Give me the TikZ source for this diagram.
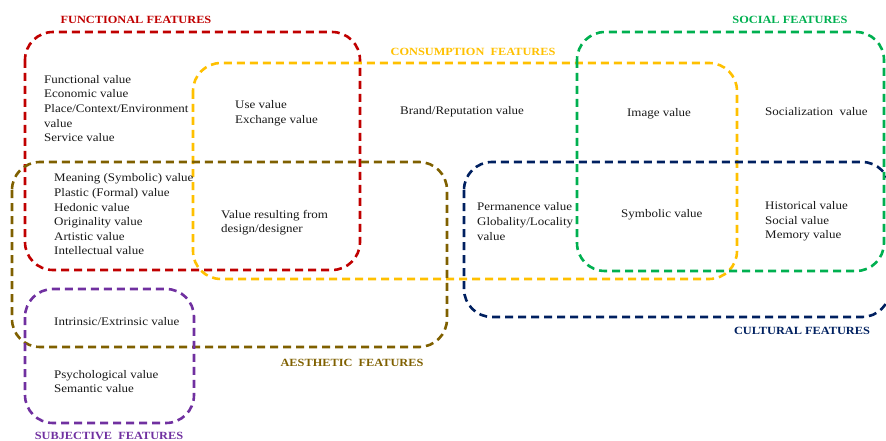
\documentclass[tikz,border=0pt]{standalone}
\usepackage{fontspec}
\setmainfont{Liberation Serif}[FakeStretch=1.12]
\usepackage{xcolor}
\usetikzlibrary{positioning}

\definecolor{funcred}{HTML}{C00000}
\definecolor{consyellow}{HTML}{FFC000}
\definecolor{socgreen}{HTML}{00B050}
\definecolor{aesbrown}{HTML}{7F6000}
\definecolor{cultnavy}{HTML}{002060}
\definecolor{subjpurple}{HTML}{7030A0}

\begin{document}
\begin{tikzpicture}[
  x=1pt, y=-1pt,
  every node/.style={font=\fontsize{11.6}{14.6}\selectfont, text=black!90},
  group/.style={draw=#1, line width=2.6pt, dash pattern=on 8pt off 5pt, rounded corners=28pt},
  values/.style={anchor=west, align=left, inner sep=0pt},
  title/.style={font=\fontsize{11}{14}\selectfont\bfseries, text=#1, inner sep=0pt},
]
\useasboundingbox (0,0) rectangle (886,441);

% --- Feature groups (dashed rounded frames)
\draw[group=funcred]    (25,32)   rectangle (360,270);
\draw[group=consyellow] (193,63)  rectangle (737,279);
\draw[group=socgreen]   (577,32)  rectangle (884,271);
\draw[group=aesbrown]   (12,162)  rectangle (447,347);
\draw[group=cultnavy]   (464,162) rectangle (890,317);
\draw[group=subjpurple] (25,289)  rectangle (194,423);

% --- Group titles
\node[title=funcred]    (functional)  at (136,20)  {FUNCTIONAL FEATURES};
\node[title=consyellow] (consumption) at (473,52)  {CONSUMPTION~~FEATURES};
\node[title=socgreen]   (social)      at (790,20)  {SOCIAL FEATURES};
\node[title=aesbrown]   (aesthetic)   at (352,363) {AESTHETIC~~FEATURES};
\node[title=cultnavy]   (cultural)    at (802,331) {CULTURAL FEATURES};
\node[title=subjpurple] (subjective)  at (109,435.5) {SUBJECTIVE~~FEATURES};

% --- Values, top row
\node[values] (funcvals) at (44,108.5)
  {Functional value\\Economic value\\Place/Context/Environment\\value\\Service value};
\node[values] (usevals) at (235,113.5) {Use value\\Exchange value};
\node[values] (brand) at (400,112) {Brand/Reputation value};
\node[inner sep=0pt] (image) at (659,114) {Image value};
\node[values] (socialization) at (765,112) {Socialization~~value};

% --- Values, middle row
\node[values] (meaning) at (54,214.5)
  {Meaning (Symbolic) value\\Plastic (Formal) value\\Hedonic value\\Originality value\\Artistic value\\Intellectual value};
\node[values] (resulting) at (221,222.5) {Value resulting from\\design/designer};
\node[values] (permanence) at (477,221.5) {Permanence value\\Globality/Locality\\value};
\node[values] (symbolic) at (621,215) {Symbolic value};
\node[values] (historical) at (765,221.5) {Historical value\\Social value\\Memory value};

% --- Values, bottom row
\node[values] (intrinsic) at (54,322) {Intrinsic/Extrinsic value};
\node[values] (psych) at (54,381.5) {Psychological value\\Semantic value};

\end{tikzpicture}
\end{document}
